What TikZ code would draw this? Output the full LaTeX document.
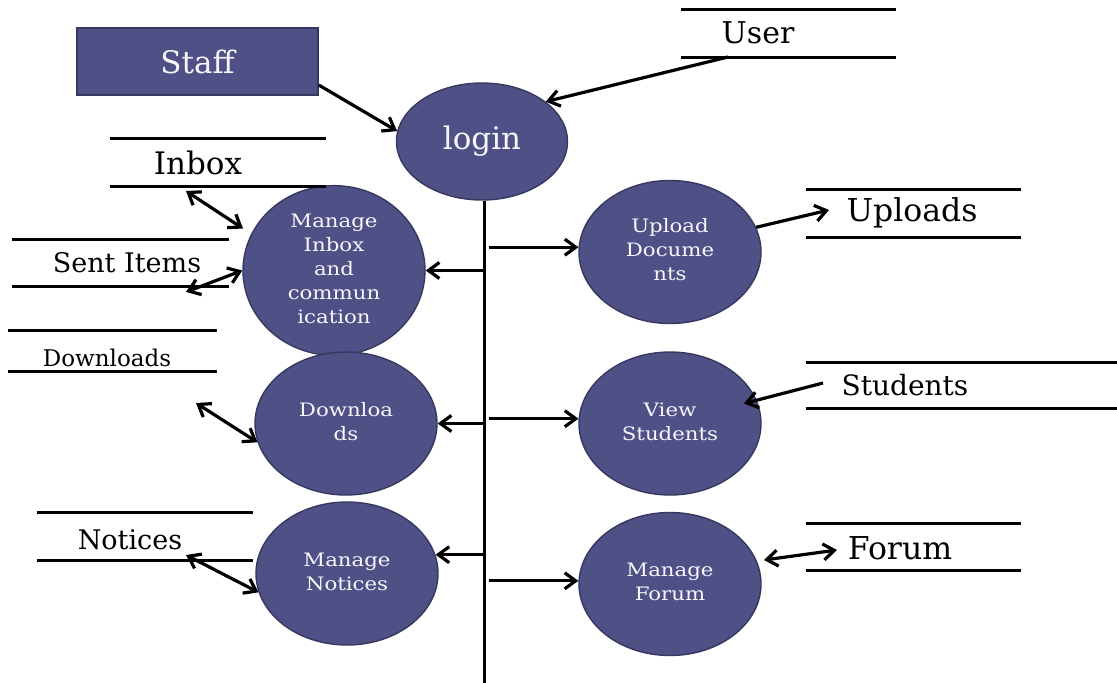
\documentclass[tikz,border=0pt]{standalone}
\usepackage{fontspec}
\setmainfont{DejaVu Serif}
\usetikzlibrary{arrows.meta,shapes.geometric,calc}
\definecolor{procfill}{RGB}{79,80,134}
\definecolor{procdraw}{RGB}{55,56,96}
\definecolor{proctext}{RGB}{246,246,252}
\newcommand{\ptxt}[1]{\scalebox{1.15}[1]{\begin{tabular}{@{}c@{}}#1\end{tabular}}}
\begin{document}
\begin{tikzpicture}[x=1pt,y=-1pt,
  proc/.style={ellipse, draw=procdraw, line width=1.4pt, fill=procfill, text=proctext,
    inner sep=0pt, minimum width=182pt, minimum height=143pt,
    font=\fontsize{18.5}{24}\selectfont},
  tipb/.tip={Straight Barb[length=11pt,width=16pt]},
  flow/.style={line width=3.2pt, -tipb},
  biflow/.style={line width=3.2pt, tipb-tipb},
  store/.style={line width=3pt},
  lbl/.style={inner sep=0pt, text=black}]
\useasboundingbox (0,0) rectangle (1117,683);

% processes and external entity
\node[draw=procdraw, line width=1.4pt, fill=procfill, text=proctext, minimum width=241pt,
  minimum height=67pt, inner sep=0pt, font=\fontsize{31}{36}\selectfont] (staff) at (197.5,61.5) {Staff};
\node[proc, minimum width=171pt, minimum height=117pt, font=\fontsize{31}{36}\selectfont] (login) at (482,141.5) {login};
\node[proc] (mi) at (334,270.5) {\ptxt{Manage\\Inbox\\and\\commun\\ication}};
\node[proc] (up) at (670,252) {\ptxt{Upload\\Docume\\nts}};
\node[proc] (dl) at (346,423.5) {\ptxt{Downloa\\ds}};
\node[proc] (vs) at (670,423.5) {\ptxt{View\\Students}};
\node[proc] (mn) at (347,573.5) {\ptxt{Manage\\Notices}};
\node[proc] (mf) at (670,584) {\ptxt{Manage\\Forum}};

% data stores
\draw[store] (681,9.5) -- (896,9.5) (681,57) -- (896,57);
\node[lbl, font=\fontsize{30}{34}\selectfont] (user) at (758,33) {User};
\draw[store] (110,138) -- (326,138) (110,186) -- (326,186);
\node[lbl, font=\fontsize{31}{34}\selectfont] (inbox) at (198,163) {Inbox};
\draw[store] (12,239) -- (229,239) (12,286) -- (229,286);
\node[lbl, font=\fontsize{27}{30}\selectfont] (sent) at (127,263) {Sent Items};
\draw[store] (8,330) -- (217,330) (8,371) -- (217,371);
\node[lbl, font=\fontsize{23}{26}\selectfont] (dls) at (107,358) {Downloads};
\draw[store] (37,512) -- (253,512) (37,560) -- (253,560);
\node[lbl, font=\fontsize{27}{32}\selectfont] (notices) at (130,540) {Notices};
\draw[store] (806,189) -- (1021,189) (806,237) -- (1021,237);
\node[lbl, font=\fontsize{31.5}{36}\selectfont] (uploads) at (912,213) {Uploads};
\draw[store] (806,362) -- (1117,362) (806,408) -- (1117,408);
\node[lbl, font=\fontsize{28}{34}\selectfont] (students) at (905,385) {Students};
\draw[store] (806,523) -- (1021,523) (806,570) -- (1021,570);
\node[lbl, font=\fontsize{31.5}{36}\selectfont] (forum) at (900,548) {Forum};

% free ends
\coordinate (trunkbot) at (484,683);
\coordinate (rt) at (489,0);
\coordinate (userout) at (728,57);
\coordinate (upin) at (829,210);
\coordinate (stout) at (823,383);
\coordinate (fin) at (837,550);
\coordinate (ibx) at (186,191);
\coordinate (sentx) at (186,292);
\coordinate (dlx) at (196,403);
\coordinate (ntx) at (186,555);

% trunk
\draw[line width=3pt] (login.south -| trunkbot) -- (trunkbot);
\draw[flow] (mi.east -| trunkbot) -- (mi.east);
\draw[flow] (dl.east -| trunkbot) -- (dl.east);
\draw[flow] (mn.12 -| trunkbot) -- (mn.12);
\draw[flow] (up.177 -| rt) -- (up.177);
\draw[flow] (vs.177 -| rt) -- (vs.177);
\draw[flow] (mf.178 -| rt) -- (mf.178);

% other flows
\draw[flow] ([yshift=-23.5pt]staff.east) -- (login.173);
\draw[flow] (userout) -- (login.32);
\draw[flow] (up.16) -- (upin);
\draw[flow] (stout) -- ($(vs)+(74,-20)$);
\draw[biflow] ($(mf)+(94,-24)$) -- (fin);
\draw[biflow] (ibx) -- ($(mi)+(-91,-42)$);
\draw[biflow] (sentx) -- (mi.west);
\draw[biflow] (dlx) -- (dl.192);
\draw[biflow] (ntx) -- (mn.192);
\end{tikzpicture}
\end{document}
